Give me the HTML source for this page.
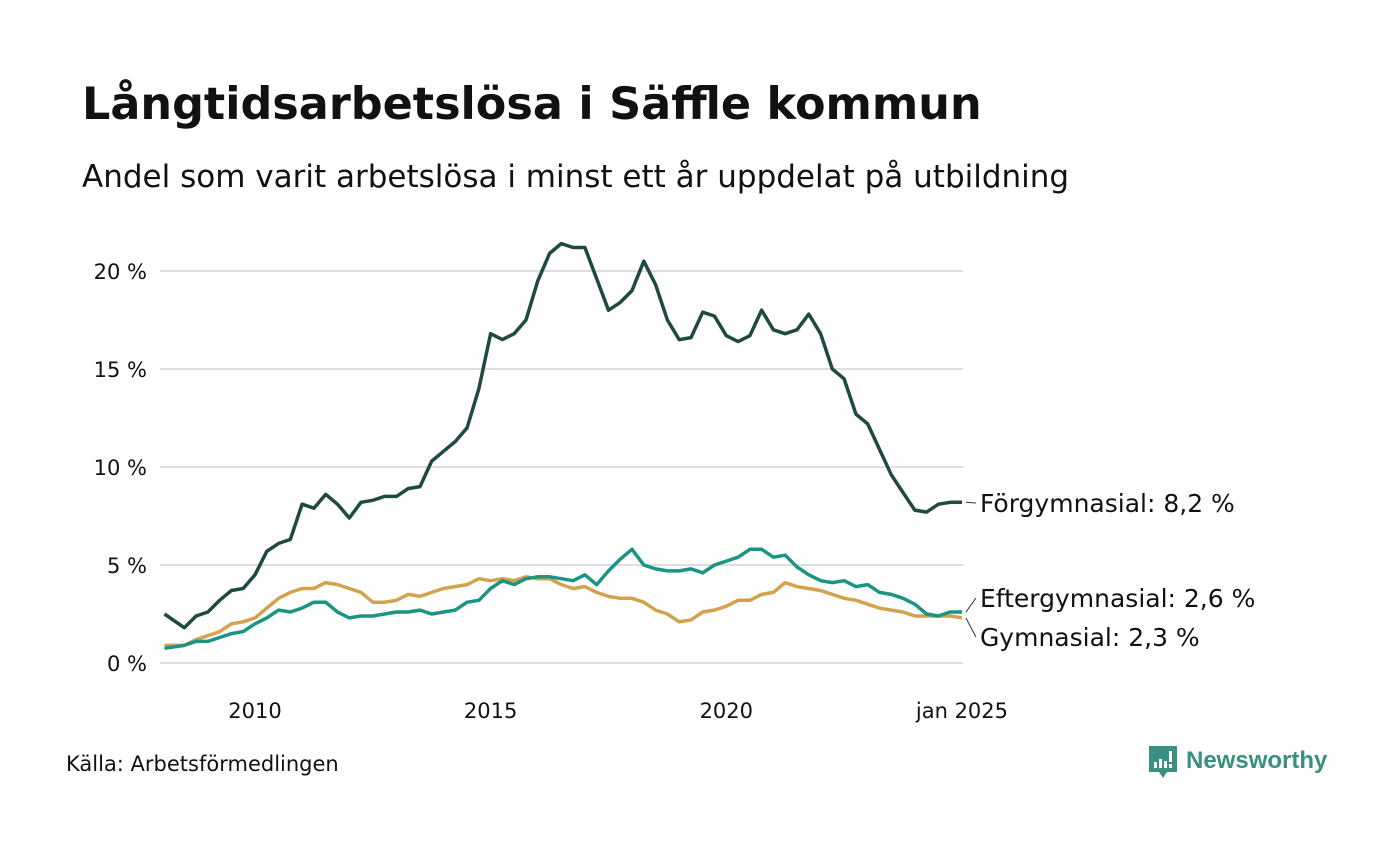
<!DOCTYPE html>
<html><head><meta charset="utf-8">
<style>
body{margin:0;background:#fff;width:1400px;height:840px;overflow:hidden;font-family:"Liberation Sans","DejaVu Sans",sans-serif;}
svg text{font-family:"DejaVu Sans","Liberation Sans",sans-serif;}
</style></head>
<body>
<svg id="chart" width="1400" height="840" viewBox="0 0 1400 840">
<text x="82" y="119" font-size="44.5" font-weight="bold" fill="#111">Långtidsarbetslösa i Säffle kommun</text>
<text x="82" y="187" font-size="31" fill="#111">Andel som varit arbetslösa i minst ett år uppdelat på utbildning</text>
<g id="grid"></g>
<g id="lines"></g>
<g id="labels"></g>
<text x="66" y="771" font-size="21" fill="#111">Källa: Arbetsförmedlingen</text>
<g>
<path d="M1149 746 h28 v26 h-10 l-4 6 l-4 -6 h-10 z" fill="#3a8f83"/>
<rect x="1154" y="762" width="3" height="6" fill="#fff"/><rect x="1159" y="759" width="3" height="9" fill="#fff"/><rect x="1164" y="761" width="3" height="7" fill="#fff"/><rect x="1169" y="751" width="3" height="11" fill="#fff"/><rect x="1169" y="764" width="3" height="4" fill="#fff"/>
<text x="1186" y="768" font-size="24" font-weight="bold" fill="#3a8f83" style="font-family:'Liberation Sans',sans-serif">Newsworthy</text>
</g>
</svg>
<script>
const dates=[2008.08,2008.5,2008.75,2009,2009.25,2009.5,2009.75,2010,2010.25,2010.5,2010.75,2011,2011.25,2011.5,2011.75,2012,2012.25,2012.5,2012.75,2013,2013.25,2013.5,2013.75,2014,2014.25,2014.5,2014.75,2015,2015.25,2015.5,2015.75,2016,2016.25,2016.5,2016.75,2017,2017.25,2017.5,2017.75,2018,2018.25,2018.5,2018.75,2019,2019.25,2019.5,2019.75,2020,2020.25,2020.5,2020.75,2021,2021.25,2021.5,2021.75,2022,2022.25,2022.5,2022.75,2023,2023.25,2023.5,2023.75,2024,2024.25,2024.5,2024.75,2025];
const forgymnasial=[2.5,1.8,2.4,2.6,3.2,3.7,3.8,4.5,5.7,6.1,6.3,8.1,7.9,8.6,8.1,7.4,8.2,8.3,8.5,8.5,8.9,9.0,10.3,10.8,11.3,12.0,14.0,16.8,16.5,16.8,17.5,19.5,20.9,21.4,21.2,21.2,19.6,18.0,18.4,19.0,20.5,19.3,17.5,16.5,16.6,17.9,17.7,16.7,16.4,16.7,18.0,17.0,16.8,17.0,17.8,16.8,15.0,14.5,12.7,12.2,10.9,9.6,8.7,7.8,7.7,8.1,8.2,8.2];
const eftergymnasial=[0.75,0.9,1.1,1.1,1.3,1.5,1.6,2.0,2.3,2.7,2.6,2.8,3.1,3.1,2.6,2.3,2.4,2.4,2.5,2.6,2.6,2.7,2.5,2.6,2.7,3.1,3.2,3.8,4.2,4.0,4.3,4.4,4.4,4.3,4.2,4.5,4.0,4.7,5.3,5.8,5.0,4.8,4.7,4.7,4.8,4.6,5.0,5.2,5.4,5.8,5.8,5.4,5.5,4.9,4.5,4.2,4.1,4.2,3.9,4.0,3.6,3.5,3.3,3.0,2.5,2.4,2.6,2.6];
const gymnasial=[0.9,0.9,1.2,1.4,1.6,2.0,2.1,2.3,2.8,3.3,3.6,3.8,3.8,4.1,4.0,3.8,3.6,3.1,3.1,3.2,3.5,3.4,3.6,3.8,3.9,4.0,4.3,4.2,4.3,4.2,4.4,4.3,4.3,4.0,3.8,3.9,3.6,3.4,3.3,3.3,3.1,2.7,2.5,2.1,2.2,2.6,2.7,2.9,3.2,3.2,3.5,3.6,4.1,3.9,3.8,3.7,3.5,3.3,3.2,3.0,2.8,2.7,2.6,2.4,2.4,2.4,2.4,2.3];
const yTicks=[0,5,10,15,20];
const yTickLabels=["0 %","5 %","10 %","15 %","20 %"];
const xTicks=[2010,2015,2020,2025];
const xTickLabels=["2010","2015","2020","jan 2025"];
const seriesNames=["Förgymnasial","Eftergymnasial","Gymnasial"];

const NS="http://www.w3.org/2000/svg";
const X=v=>255+(v-2010)*47.13;
const Y=v=>663-v*19.6;
function mk(tag,attrs,parent){const e=document.createElementNS(NS,tag);for(const k in attrs)e.setAttribute(k,attrs[k]);parent.appendChild(e);return e;}
const grid=document.getElementById('grid'),lines=document.getElementById('lines'),labels=document.getElementById('labels');
yTicks.forEach((t,i)=>{
  const l=mk('line',{x1:160,x2:963,y1:Y(t),y2:Y(t),stroke:'#dedde2','stroke-width':2},grid);
  
  
  const tx=mk('text',{x:147,y:Y(t)+8,'font-size':21,'text-anchor':'end',fill:'#111'},grid);
  tx.textContent=yTickLabels[i];
  
  
});
xTicks.forEach((t,i)=>{
  const tx=mk('text',{x:X(t),y:718,'font-size':21,'text-anchor':'middle',fill:'#111'},grid);
  tx.textContent=xTickLabels[i];
  
  
});
function draw(vals,color,name){
  const d=vals.map((v,i)=>(i?'L':'M')+X(dates[i]).toFixed(1)+' '+Y(v).toFixed(1)).join(' ');
  const p=mk('path',{d:d,fill:'none',stroke:color,'stroke-width':3.5,'stroke-linejoin':'round'},lines);
  
  
}
draw(gymnasial,'#d4a24c','line-gymnasial');
draw(eftergymnasial,'#1a9483','line-eftergymnasial');
draw(forgymnasial,'#1e4a42','line-forgymnasial');
const lastX=X(dates[dates.length-1]);
function lab(val,ty,txt,name){
  const yv=Y(val);
  const c=mk('line',{x1:lastX+4,y1:yv,x2:lastX+14,y2:ty-9,stroke:'#333','stroke-width':1},labels);
  
  
  const t=mk('text',{x:lastX+18,y:ty,'font-size':25,fill:'#111'},labels);
  t.textContent=txt;
  
  
}
const fl=forgymnasial[forgymnasial.length-1],el=eftergymnasial[eftergymnasial.length-1],gl=gymnasial[gymnasial.length-1];
const fmt=v=>v.toFixed(1).replace('.',',')+' %';
lab(fl,512,seriesNames[0]+': '+fmt(fl),'label-forgymnasial');
lab(el,607,seriesNames[1]+': '+fmt(el),'label-eftergymnasial');
lab(gl,646,seriesNames[2]+': '+fmt(gl),'label-gymnasial');
</script>
</body></html>
